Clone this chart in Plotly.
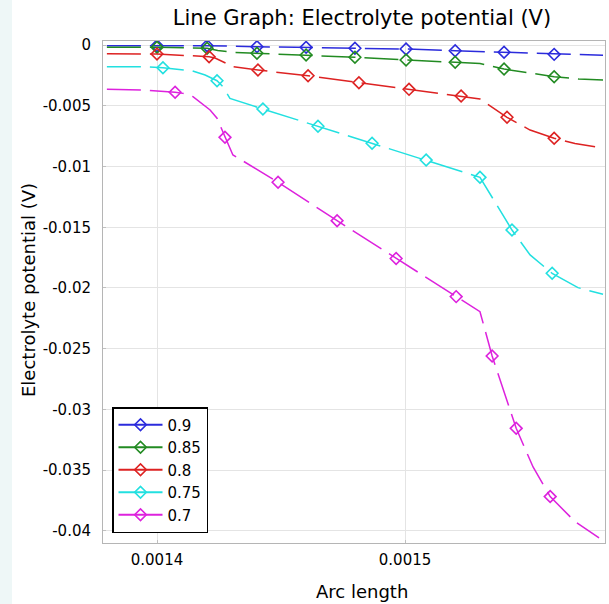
import plotly.graph_objects as go

# ---- data ----
labels = ["0.9", "0.85", "0.8", "0.75", "0.7"]
colors = ["#2b2bdc", "#228b22", "#dd2222", "#22e0e0", "#dd22dd"]

x_09 = [0.0013798, 0.0014000, 0.0014202, 0.0014403, 0.0014601, 0.0014798, 0.0015004,
        0.0015202, 0.0015399, 0.0015601, 0.0015798]
y_09 = [-0.00006, -0.00006, -0.00006, -0.00014, -0.00019, -0.00027, -0.00033,
        -0.00047, -0.00060, -0.00077, -0.00085]
m_09 = [1, 2, 3, 4, 5, 6, 7, 8, 9]

x_085 = [0.0013798, 0.0014000, 0.0014202, 0.0014245, 0.0014306, 0.0014403, 0.0014601,
         0.0014798, 0.0015004, 0.0015202, 0.0015302, 0.0015399, 0.0015601, 0.0015700, 0.0015798]
y_085 = [-0.00019, -0.00019, -0.00027, -0.00045, -0.00060, -0.00068, -0.00082,
         -0.00101, -0.00123, -0.00142, -0.00152, -0.00198, -0.00261, -0.00280, -0.00288]
m_085 = [1, 2, 5, 6, 7, 8, 9, 11, 12]

x_08 = [0.0013798, 0.0014000, 0.0014210, 0.0014234, 0.0014274, 0.0014306, 0.0014407,
        0.0014609, 0.0014814, 0.0015016, 0.0015226, 0.0015302, 0.0015411, 0.0015504,
        0.0015601, 0.0015685, 0.0015766]
y_08 = [-0.00072, -0.00074, -0.00096, -0.00107, -0.00146, -0.00179, -0.00206,
        -0.00253, -0.00310, -0.00365, -0.00420, -0.00444, -0.00595, -0.00700,
        -0.00768, -0.00811, -0.00837]
m_08 = [1, 2, 6, 7, 8, 9, 10, 12, 14]

x_075 = [0.0013798, 0.0013940, 0.0014024, 0.0014141, 0.0014194, 0.0014242, 0.0014266,
         0.0014294, 0.0014427, 0.0014649, 0.0014867, 0.0015085, 0.0015302, 0.0015431,
         0.0015504, 0.0015593, 0.0015697, 0.0015798]
y_075 = [-0.00179, -0.00179, -0.00187, -0.00212, -0.00247, -0.00294, -0.00343,
         -0.00439, -0.00527, -0.00669, -0.00809, -0.00947, -0.01089, -0.01523,
         -0.01728, -0.01879, -0.01997, -0.02052]
m_075 = [2, 5, 8, 9, 10, 11, 12, 13, 15]

x_07 = [0.0013798, 0.0013940, 0.0014073, 0.0014105, 0.0014145, 0.0014214, 0.0014242,
        0.0014274, 0.0014306, 0.0014347, 0.0014488, 0.0014726, 0.0014964, 0.0015206,
        0.0015302, 0.0015351, 0.0015448, 0.0015516, 0.0015585, 0.0015685, 0.0015782]
y_07 = [-0.00365, -0.00370, -0.00389, -0.00398, -0.00425, -0.00535, -0.00603,
        -0.00760, -0.00905, -0.00955, -0.01130, -0.01446, -0.01757, -0.02071,
        -0.02195, -0.02560, -0.03155, -0.03473, -0.03717, -0.03923, -0.04057]
m_07 = [2, 7, 10, 11, 12, 13, 15, 16, 18]

series_x = [x_09, x_085, x_08, x_075, x_07]
series_y = [y_09, y_085, y_08, y_075, y_07]
series_m = [m_09, m_085, m_08, m_075, m_07]

x_tickvals = [0.0014, 0.0015]
x_ticktext = ["0.0014", "0.0015"]
y_tickvals = [0, -0.005, -0.01, -0.015, -0.02, -0.025, -0.03, -0.035, -0.04]
y_ticktext = ["0", "-0.005", "-0.01", "-0.015", "-0.02", "-0.025", "-0.03", "-0.035", "-0.04"]

fig = go.Figure()
for lab, col, xs, ys, ms in zip(labels, colors, series_x, series_y, series_m):
    fig.add_trace(go.Scatter(x=xs, y=ys, mode="lines", showlegend=False,
                             line=dict(color=col, width=1.5, dash="34px,9px"),
                             hoverinfo="skip"))
    fig.add_trace(go.Scatter(x=[xs[i] for i in ms], y=[ys[i] for i in ms], mode="markers",
                             showlegend=False,
                             marker=dict(symbol="diamond-open", size=9, color=col,
                                         line=dict(width=1.6, color=col))))
for lab, col in zip(labels, colors):
    fig.add_trace(go.Scatter(x=[None], y=[None], mode="lines+markers", name=lab,
                             line=dict(color=col, width=2),
                             marker=dict(symbol="diamond-open", size=9, color=col,
                                         line=dict(width=1.6, color=col))))

W, H = 609, 604
L, R, T, B = 103, 4, 41, 61
pw = W - L - R
ph = H - T - B


def px(xp):
    return (xp - L) / pw


def py(yp):
    return (H - B - yp) / ph


fig.update_layout(
    width=W, height=H,
    margin=dict(l=L, r=R, t=T, b=B, autoexpand=False),
    paper_bgcolor="white", plot_bgcolor="white",
    font=dict(family="DejaVu Sans", color="black", size=15),
    title=dict(text="Line Graph: Electrolyte potential (V)", xref="container",
               x=362 / W, xanchor="center", yref="container", y=1 - 18 / H,
               yanchor="middle", font=dict(size=21)),
    xaxis=dict(range=[0.00137823, 0.0015806], tickvals=x_tickvals, ticktext=x_ticktext,
               showgrid=True, gridcolor="#e4e4e4", zeroline=False, automargin=False,
               showline=True, linecolor="#b5b5b5", linewidth=1, mirror=True,
               ticks="inside", ticklen=3, tickcolor="#c0c0c0",
               ticklabelstandoff=3, tickfont=dict(size=15)),
    yaxis=dict(range=[-0.04099, 0.00033], tickvals=y_tickvals, ticktext=y_ticktext,
               showgrid=True, gridcolor="#e4e4e4", zeroline=False, automargin=False,
               showline=True, linecolor="#b5b5b5", linewidth=1, mirror=True,
               ticks="inside", ticklen=3, tickcolor="#c0c0c0",
               ticklabelstandoff=8, tickfont=dict(size=15)),
    legend=dict(x=px(112), y=py(407), xanchor="left", yanchor="top",
                bgcolor="white", bordercolor="black", borderwidth=1.5,
                font=dict(size=15), tracegroupgap=0, itemwidth=44),
    annotations=[
        dict(text="Arc length", xref="paper", yref="paper", x=px(362), y=py(591),
             xanchor="center", yanchor="middle", showarrow=False, font=dict(size=18)),
        dict(text="Electrolyte potential (V)", xref="paper", yref="paper", x=px(28),
             y=py(290), xanchor="center", yanchor="middle", textangle=-90,
             showarrow=False, font=dict(size=18)),
    ],
    shapes=[dict(type="rect", xref="paper", yref="paper",
                 x0=px(0), x1=px(12), y0=py(H), y1=py(0),
                 fillcolor="#eef7f7", line=dict(width=0), layer="below")],
)

fig.write_html("out.html", config={"displayModeBar": False},
               post_script="document.body.style.margin='0px';")
